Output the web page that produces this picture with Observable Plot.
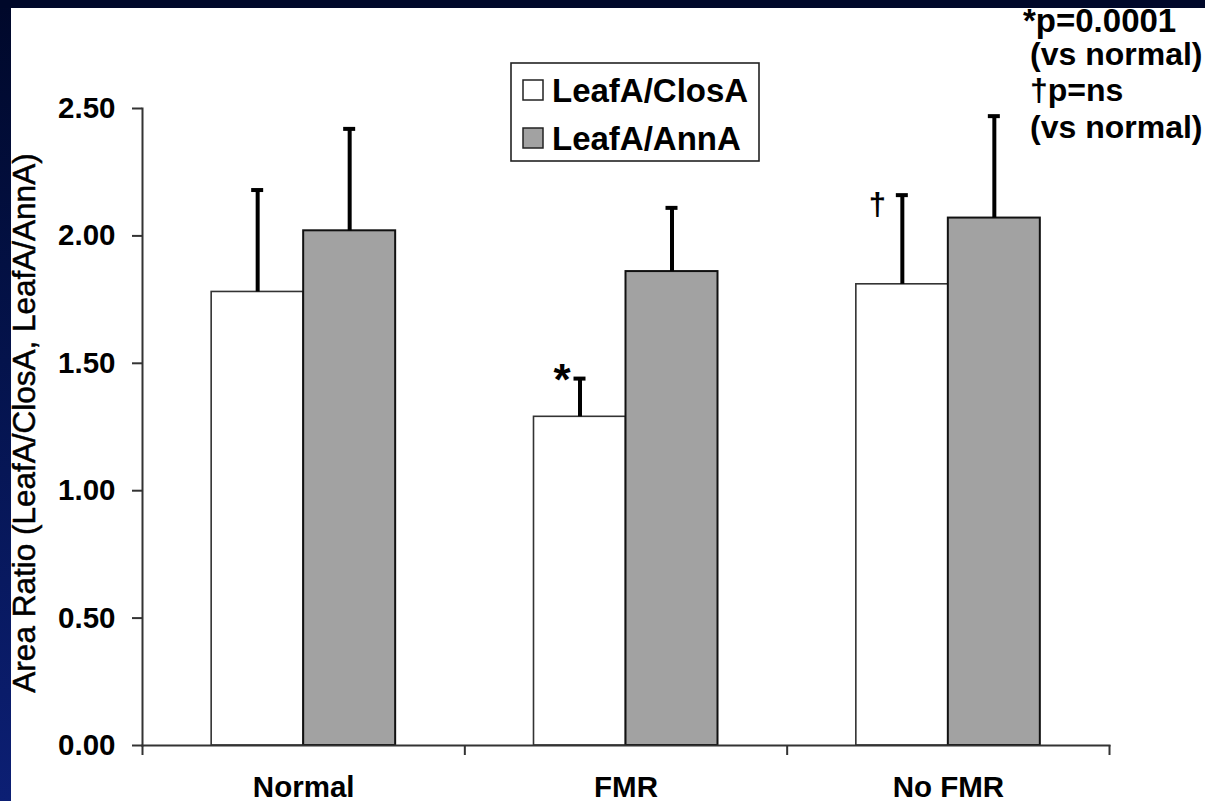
<!DOCTYPE html>
<html>
<head>
<meta charset="utf-8">
<script src="https://cdn.jsdelivr.net/npm/d3@7"></script>
<script src="https://cdn.jsdelivr.net/npm/@observablehq/plot@0.6"></script>
<style>
  html, body { margin: 0; padding: 0; }
  body {
    width: 1205px; height: 801px; overflow: hidden; position: relative;
    background: linear-gradient(to bottom, #00082a 0%, #04134c 45%, #0c1f74 100%);
    font-family: "Liberation Sans", Arial, sans-serif;
  }
  #panel { position: absolute; left: 11px; top: 8px; width: 1194px; height: 793px; background: #fff; }
  #topband { position: absolute; left: 0; top: 0; width: 1205px; height: 8px; background: #00082a; z-index: 5; }
  #overlay { position: absolute; left: 0; top: 0; z-index: 3; pointer-events: none; }
</style>
</head>
<body>
<div id="panel"></div>
<svg id="overlay" width="1205" height="801"></svg>
<div id="topband"></div>
<script>
// ---- data ----
const categories = ["Normal", "FMR", "No FMR"];
const seriesNames = ["LeafA/ClosA", "LeafA/AnnA"];
const closA = [1.78, 1.29, 1.81];
const closAErr = [0.40, 0.15, 0.35];
const annA = [2.02, 1.86, 2.07];
const annAErr = [0.40, 0.25, 0.40];
const yTicks = [0, 0.5, 1.0, 1.5, 2.0, 2.5];
const yLabel = "Area Ratio (LeafA/ClosA, LeafA/AnnA)";
const marks = [{category: "FMR", series: "LeafA/ClosA", symbol: "*"},
               {category: "No FMR", series: "LeafA/ClosA", symbol: "\u2020"}];
const notes = ["*p=0.0001", "(vs normal)", "\u2020p=ns", "(vs normal)"];

// ---- layout ----
const W = 1194, H = 793, ML = 131, MR = 96, MT = 100, MB = 56;
const bw = (W - ML - MR) / categories.length;
const barW = 92;
const capW = 12;
const font = "Liberation Sans, Arial, sans-serif";

const rowsA = categories.map((c, i) => ({category: c, value: closA[i], top: closA[i] + closAErr[i]}));
const rowsB = categories.map((c, i) => ({category: c, value: annA[i], top: annA[i] + annAErr[i]}));
const lastCat = [categories[categories.length - 1]];
const symRows = marks.map(m => {
  const i = categories.indexOf(m.category);
  return {...m, top: closA[i] + closAErr[i]};
});

const plot = Plot.plot({
  width: W, height: H,
  marginLeft: ML, marginRight: MR, marginTop: MT, marginBottom: MB,
  style: {fontFamily: font, color: "#000", background: "#fff", overflow: "visible"},
  x: {type: "band", domain: categories, padding: 0, round: false},
  y: {domain: [0, 2.5], nice: false},
  marks: [
    // bars
    Plot.barY(rowsA, {x: "category", y: "value", fill: "#fff", stroke: "#333", strokeWidth: 1.6,
      insetLeft: bw / 2 - barW, insetRight: bw / 2}),
    Plot.barY(rowsB, {x: "category", y: "value", fill: "#a2a2a2", stroke: "#111", strokeWidth: 2,
      insetLeft: bw / 2, insetRight: bw / 2 - barW}),
    // error bars
    Plot.ruleX(rowsA, {x: "category", y1: "value", y2: "top", stroke: "#000", strokeWidth: 4, dx: -barW / 2}),
    Plot.ruleX(rowsB, {x: "category", y1: "value", y2: "top", stroke: "#000", strokeWidth: 4, dx: barW / 2}),
    Plot.tickY(rowsA, {x: "category", y: "top", stroke: "#000", strokeWidth: 4,
      insetLeft: bw / 2 - barW / 2 - capW / 2, insetRight: bw / 2 + barW / 2 - capW / 2}),
    Plot.tickY(rowsB, {x: "category", y: "top", stroke: "#000", strokeWidth: 4,
      insetLeft: bw / 2 + barW / 2 - capW / 2, insetRight: bw / 2 - barW / 2 - capW / 2}),
    // significance symbols
    Plot.text(symRows.filter(d => d.symbol === "*"), {x: "category", y: "top", text: "symbol",
      fontSize: 44, fontWeight: "bold", dx: -barW / 2 - 18, dy: 2, lineAnchor: "middle"}),
    Plot.text(symRows.filter(d => d.symbol !== "*"), {x: "category", y: "top", text: "symbol",
      fontSize: 31, fontWeight: "bold", dx: -barW / 2 - 25, dy: 10, lineAnchor: "middle"}),
    // axes lines
    Plot.frame({anchor: "left", stroke: "#333", strokeWidth: 2}),
    Plot.frame({anchor: "bottom", stroke: "#333", strokeWidth: 2}),
    // x boundary ticks
    Plot.ruleX(categories, {x: d => d, y1: 0, y2: 0, insetBottom: -10, dx: -bw / 2, stroke: "#333", strokeWidth: 2}),
    Plot.ruleX(lastCat, {x: d => d, y1: 0, y2: 0, insetBottom: -10, dx: bw / 2, stroke: "#333", strokeWidth: 2}),
    Plot.axisY({ticks: yTicks, tickFormat: d3.format(".2f"), tickSize: 10, tickPadding: 17,
      fontSize: 29.5, fontWeight: "bold", stroke: "#333", strokeWidth: 2, label: null}),
    Plot.axisX({tickSize: 0, tickPadding: 31, fontSize: 29.5, fontWeight: "bold", label: null}),
    // y label
    Plot.text([yLabel], {frameAnchor: "left", dx: -118, dy: -4, rotate: -90, fontSize: 31.5,
      fontWeight: "normal", fill: "#000", stroke: "#000", strokeWidth: 0.5,
      textAnchor: "middle", lineAnchor: "middle"})
  ]
});
document.getElementById("panel").appendChild(plot);

// ---- legend and notes overlay ----
const ov = d3.select("#overlay");
ov.append("rect").attr("x", 511).attr("y", 63).attr("width", 248).attr("height", 98)
  .attr("fill", "#fff").attr("stroke", "#222").attr("stroke-width", 1.6);
const swFill = ["#fff", "#a2a2a2"];
seriesNames.forEach((s, i) => {
  const y = 80 + i * 48;
  ov.append("rect").attr("x", 523).attr("y", y).attr("width", 20).attr("height", 20)
    .attr("fill", swFill[i]).attr("stroke", "#222").attr("stroke-width", 1.5);
  ov.append("text").attr("x", 552).attr("y", y + 22).text(s)
    .attr("font-family", font).attr("font-weight", "bold").attr("font-size", 33).attr("fill", "#000");
});
const noteX = [1023, 1030, 1030, 1030];
const noteY = [32, 65, 101, 138];
const noteSize = [33, 32, 32, 32];
notes.forEach((t, i) => {
  ov.append("text").attr("x", noteX[i]).attr("y", noteY[i]).text(t)
    .attr("font-family", font).attr("font-weight", "bold").attr("font-size", noteSize[i]).attr("fill", "#000");
});
</script>
</body>
</html>
